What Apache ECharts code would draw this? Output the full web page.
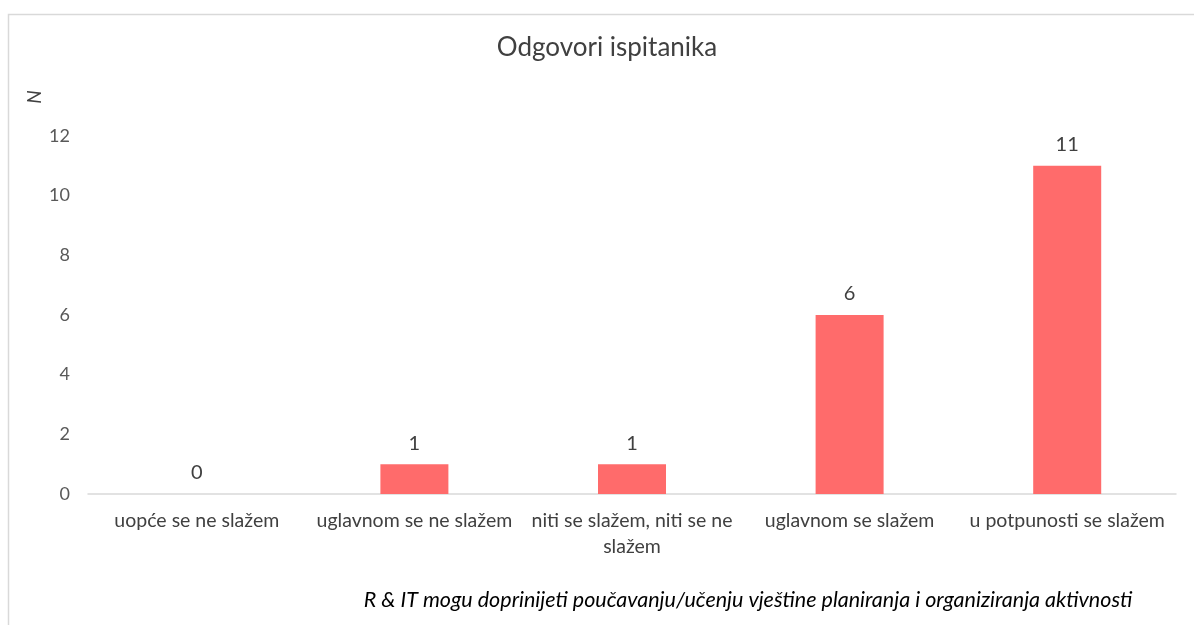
<!DOCTYPE html>
<html>
<head>
<meta charset="utf-8">
<title>Odgovori ispitanika</title>
<script src="https://cdn.jsdelivr.net/npm/echarts@6/dist/echarts.min.js"></script>
<style>
  html, body { margin: 0; padding: 0; background: #fff; }
  #chart { width: 1194px; height: 625px; }
</style>
</head>
<body>
<div id="chart"></div>
<script>
const categories = [
  'uopće se ne slažem',
  'uglavnom se ne slažem',
  'niti se slažem, niti se ne\nslažem',
  'uglavnom se slažem',
  'u potpunosti se slažem'
]
const counts = [0, 1, 1, 6, 11]
const yTicks = [0, 2, 4, 6, 8, 10, 12]

const chartTitle = 'Odgovori ispitanika'
const yName = 'N'
const xName = 'R & IT mogu doprinijeti poučavanju/učenju vještine planiranja i organiziranja aktivnosti'

const font = 'Lato, "Open Sans", sans-serif'
const textColor = '#404040'

const chart = echarts.init(document.getElementById('chart'))

chart.setOption({
  animation: false,
  backgroundColor: '#fff',
  grid: {
    left: 88,
    right: 18,
    top: 136,
    bottom: 131,
    containLabel: false
  },
  xAxis: {
    type: 'category',
    data: categories,
    axisLine: { lineStyle: { color: '#d9d9d9', width: 1.5 } },
    axisTick: { show: false },
    axisLabel: {
      interval: 0,
      margin: 14,
      lineHeight: 26,
      fontFamily: font,
      fontSize: 19.5,
      color: textColor
    }
  },
  yAxis: {
    type: 'value',
    min: yTicks[0],
    max: yTicks[yTicks.length - 1],
    interval: 2,
    splitLine: { show: false },
    axisLine: { show: false },
    axisTick: { show: false },
    axisLabel: {
      margin: 18,
      fontFamily: font,
      fontSize: 18,
      color: '#595959'
    }
  },
  series: [
    {
      type: 'bar',
      data: counts,
      barWidth: 68,
      itemStyle: {
        color: '#ff6b6b',
        borderWidth: 0
      },
      label: {
        show: true,
        position: 'top',
        distance: 11,
        fontFamily: font,
        fontSize: 20,
        color: textColor
      }
    }
  ],
  graphic: [
    {
      type: 'rect',
      shape: { x: 8.5, y: 14.5, width: 1400, height: 800 },
      style: { fill: 'none', stroke: '#d9d9d9', lineWidth: 1.5 },
      silent: true
    },
    {
      type: 'text',
      x: 607,
      y: 48,
      style: {
        text: chartTitle,
        fontFamily: font,
        fontSize: 26,
        fill: textColor,
        align: 'center',
        verticalAlign: 'middle'
      }
    },
    {
      type: 'text',
      x: 35,
      y: 97,
      rotation: Math.PI / 2,
      style: {
        text: yName,
        fontFamily: font,
        fontSize: 19,
        fontStyle: 'italic',
        fill: textColor,
        align: 'center',
        verticalAlign: 'middle'
      }
    },
    {
      type: 'text',
      x: 748,
      y: 600,
      style: {
        text: xName,
        fontFamily: font,
        fontSize: 21.5,
        fontStyle: 'italic',
        fill: '#000',
        align: 'center',
        verticalAlign: 'middle'
      }
    }
  ]
})
</script>
</body>
</html>
